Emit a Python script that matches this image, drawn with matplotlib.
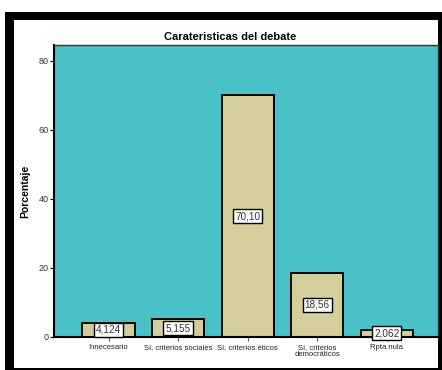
import matplotlib
matplotlib.use('Agg')
import matplotlib.pyplot as plt
from matplotlib.patches import Rectangle

# ── data ─────────────────────────────────────────────────────────────────────
categorias = ['Innecesario', 'Sí, criterios sociales', 'Sí, criterios éticos',
              'Sí, criterios\ndemocráticos', 'Rpta nula']
porcentaje = [4.124, 5.155, 70.10, 18.56, 2.062]
etiquetas = ['4,124', '5,155', '70,10', '18,56', '2,062']
y_ticks = [0, 20, 40, 60, 80]

W, H = 442, 370
plt.rcParams['font.family'] = ['Liberation Sans', 'DejaVu Sans']

fig = plt.figure(figsize=(W / 100, H / 100), dpi=100)

# outer black frame (SPSS output window look)
fig.patches.append(Rectangle((5 / W, 0), (W - 5) / W, (H - 12) / H,
                             transform=fig.transFigure, facecolor='black',
                             edgecolor='none', zorder=-2))
fig.patches.append(Rectangle((14 / W, 2 / H), (438 - 14) / W, (368 - 20) / H,
                             transform=fig.transFigure, facecolor='white',
                             edgecolor='none', zorder=-1))

ax = fig.add_axes([54 / W, 1 - 337 / H, (437.5 - 54) / W, (337 - 45) / H])
ax.set_zorder(1)
ax.set_facecolor('#48C2C6')

x = list(range(len(categorias)))
ax.bar(x, porcentaje, width=0.75, color='#D4CE9A', edgecolor='black',
       linewidth=1.4, zorder=2)

for xi, v, lab in zip(x, porcentaje, etiquetas):
    ax.text(xi, v / 2, lab, ha='center', va='center', fontsize=7.2,
            color='#333333', zorder=3,
            bbox=dict(boxstyle='square,pad=0.2', facecolor='white',
                      edgecolor='black', linewidth=1.0))

ax.set_xlim(-0.784, 4.73)
ax.set_ylim(0, 84.6)
ax.set_yticks(y_ticks)
ax.set_xticks(x)
ax.set_xticklabels(categorias, fontsize=5.5, color='#222222', linespacing=1.0)
ax.tick_params(axis='y', labelsize=6.5, labelcolor='#333333', length=3,
               width=0.8, pad=1)
ax.tick_params(axis='x', length=3, width=0.8, pad=2, color='#555555')

for side in ['left', 'bottom']:
    ax.spines[side].set_linewidth(1.5)
for side in ['top', 'right']:
    ax.spines[side].set_linewidth(1.0)
    ax.spines[side].set_color('#333333')

ax.set_ylabel('Porcentaje', fontsize=7.5, fontweight='bold')
ax.yaxis.set_label_coords(-(54 - 30) / (437.5 - 54), 0.5)

fig.text(230 / W, 1 - 37 / H, 'Carateristicas del debate', ha='center',
         va='center', fontsize=8, fontweight='bold')

fig.savefig('out.png', dpi=100)
